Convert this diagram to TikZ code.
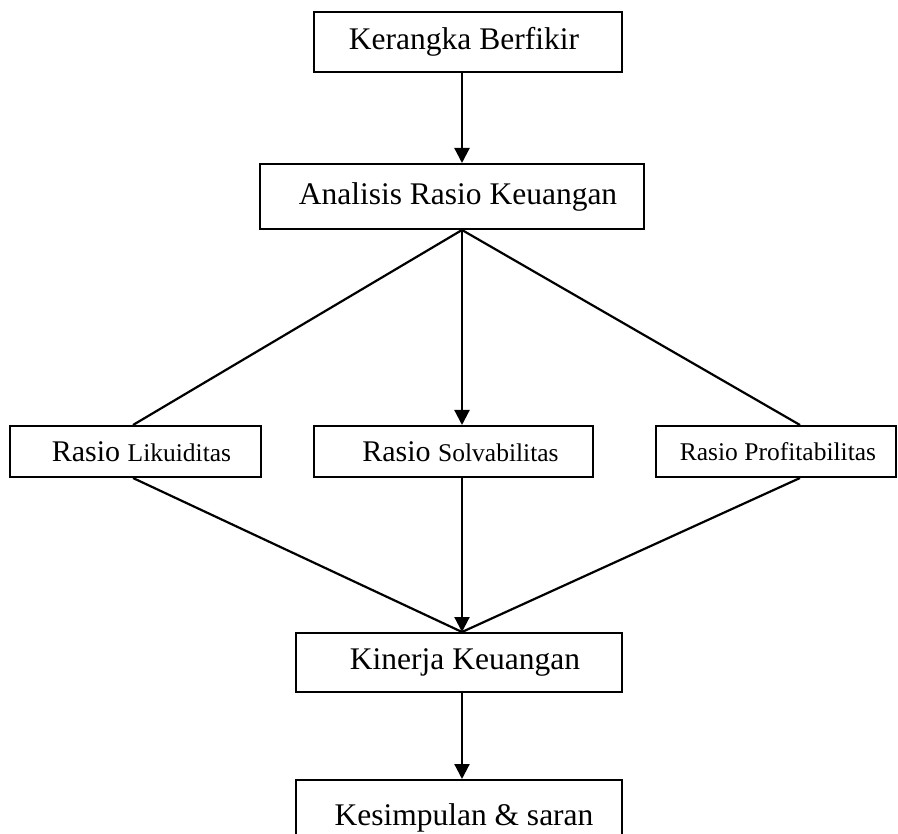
\documentclass[tikz,border=0pt]{standalone}
\usepackage{fontspec}
\setmainfont{Liberation Serif}
\usetikzlibrary{arrows.meta}
\newcommand{\bigtxt}{\fontsize{31.5}{36}\selectfont}
\newcommand{\midtxt}{\fontsize{30}{36}\selectfont}
\newcommand{\smalltxt}{\fontsize{25.5}{30}\selectfont}
\tikzset{
  box/.style={draw, line width=2pt, rectangle, inner sep=0pt, align=center},
  conn/.style={line width=2.2pt},
  arr/.style={conn, -{Triangle[length=15pt,width=15pt]}}
}
\begin{document}
\begin{tikzpicture}[x=1pt,y=-1pt]
\clip (0,0) rectangle (898,834);
\coordinate (sp) at (462,0);
\coordinate (cL) at (133,0);
\coordinate (cR) at (800,0);
\node[box, minimum width=308pt, minimum height=60pt] (B1) at (468,42) {\hspace*{-8pt}\bigtxt Kerangka Berfikir};
\node[box, minimum width=384pt, minimum height=65pt] (B2) at (452,196.5) {\hspace*{12pt}\bigtxt Analisis Rasio Keuangan};
\node[box, minimum width=251pt, minimum height=51pt] (B3) at (135.5,451.5) {\hspace*{12pt}\midtxt Rasio \smalltxt Likuiditas};
\node[box, minimum width=279pt, minimum height=51pt] (B4) at (453.5,451.5) {\hspace*{14pt}\midtxt Rasio \smalltxt Solvabilitas};
\node[box, minimum width=240pt, minimum height=51pt] (B5) at (776,451.5) {\hspace*{4pt}\smalltxt Rasio Profitabilitas};
\node[box, minimum width=326pt, minimum height=59pt] (B6) at (459,662.5) {\hspace*{12pt}\bigtxt Kinerja Keuangan};
\node[box, minimum width=326pt, minimum height=90pt] (B7) at (459,825) {\hspace*{10pt}\raisebox{20pt}{\bigtxt Kesimpulan \& saran}};
\draw[arr] (B1.south -| sp) -- (B2.north -| sp);
\draw[conn] (B2.south -| sp) -- (B3.north -| cL);
\draw[conn] (B2.south -| sp) -- (B5.north -| cR);
\draw[arr] (B2.south -| sp) -- (B4.north -| sp);
\draw[conn] (B3.south -| cL) -- (B6.north -| sp);
\draw[conn] (B5.south -| cR) -- (B6.north -| sp);
\draw[arr] (B4.south -| sp) -- (B6.north -| sp);
\draw[arr] (B6.south -| sp) -- (B7.north -| sp);
\end{tikzpicture}
\end{document}
